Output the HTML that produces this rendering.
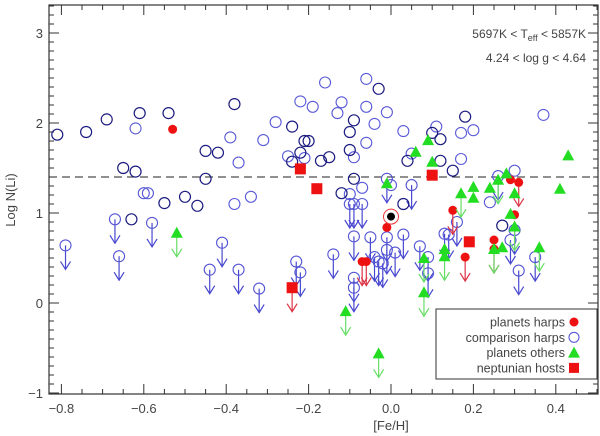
<!DOCTYPE html>
<html><head><meta charset="utf-8"><style>
html,body{margin:0;padding:0;background:#fff;}
svg{display:block;font-family:"Liberation Sans",sans-serif;}
</style></head><body>
<svg id="chart" width="600" height="436" viewBox="0 0 600 436"></svg>
<script>
// ---- data ----
const xTicks = [-0.8,-0.6,-0.4,-0.2,0.0,0.2,0.4];
const xTickLabels = ["\u22120.8","\u22120.6","\u22120.4","\u22120.2","0.0","0.2","0.4"];
const yTicks = [-1,0,1,2,3];
const yTickLabels = ["\u22121","0","1","2","3"];
const refLine = 1.4;
const sunFe = [0.0];
const sunLi = [0.96];
// comparison harps, dark detections
const darkFe = [-0.81,-0.74,-0.69,-0.61,-0.54,-0.38,-0.24,-0.65,-0.62,-0.45,-0.42,-0.45,-0.55,-0.50,-0.47,-0.63,-0.21,-0.20,-0.22,-0.24,-0.17,-0.15,-0.09,-0.10,-0.10,-0.03,-0.09,-0.12,0.18,0.10,0.12,0.04,0.12,0.15,0.03,0.27];
const darkLi = [1.87,1.90,2.04,2.11,2.11,2.21,1.96,1.50,1.46,1.69,1.67,1.38,1.11,1.18,1.08,0.93,1.80,1.80,1.67,1.57,1.58,1.62,2.03,1.90,1.70,2.38,1.38,1.22,2.07,1.89,1.82,1.58,1.58,1.47,1.10,0.86];
// comparison harps, light detections
const lightFe = [-0.62,-0.37,-0.39,-0.31,-0.28,-0.22,-0.25,-0.60,-0.59,-0.38,-0.34,-0.16,-0.19,-0.12,-0.13,-0.06,-0.06,-0.01,-0.04,-0.06,-0.21,-0.09,-0.10,-0.07,0.00,0.03,0.11,0.17,0.20,0.17,0.37,0.30,0.24,0.05];
const lightLi = [1.94,1.56,1.84,1.81,2.01,2.24,1.63,1.22,1.22,1.10,1.18,2.45,2.18,2.23,2.11,2.49,2.18,2.12,1.99,1.78,1.61,1.62,1.21,1.28,1.31,1.91,1.96,1.89,1.92,1.60,2.09,1.47,1.12,1.66];
// comparison harps, upper limits
const limFe = [-0.79,-0.67,-0.66,-0.58,-0.44,-0.41,-0.37,-0.32,-0.23,-0.22,-0.14,-0.10,-0.09,-0.07,-0.09,-0.05,-0.01,-0.09,-0.09,-0.04,-0.03,-0.02,-0.01,0.01,0.03,0.05,0.07,0.09,0.09,0.16,0.13,0.14,0.29,0.30,0.31,0.35,0.26,-0.01];
const limLi = [0.64,0.93,0.52,0.89,0.37,0.67,0.37,0.16,0.46,0.34,0.54,1.10,1.10,1.10,0.74,0.73,0.73,0.28,0.17,0.51,0.46,0.44,0.59,0.56,0.76,1.31,0.63,0.51,0.33,0.90,0.77,0.76,0.70,0.81,0.36,0.51,1.41,1.38];
// planets harps
const redFe = [-0.53,-0.01,-0.07,-0.06,0.15,0.18,0.25,0.25,0.29,0.31,0.30];
const redLi = [1.93,0.84,0.46,0.46,1.03,0.51,0.70,0.60,1.37,1.34,0.98];
const redLim = [0,0,1,1,1,1,0,1,0,1,0];
// planets others
const grnFe = [-0.52,-0.11,-0.03,-0.01,0.06,0.10,0.09,0.17,0.20,0.20,0.24,0.26,0.28,0.30,0.29,0.30,0.43,0.41,0.36,0.08,0.08,0.13,0.13,0.25,0.27];
const grnLi = [0.78,-0.09,-0.56,1.33,1.68,1.57,1.81,1.22,1.29,1.17,1.28,1.37,1.44,1.22,0.99,0.85,1.64,1.27,0.62,0.50,0.12,0.60,0.52,0.60,0.62];
const grnLim = [1,1,1,0,0,0,0,1,0,0,0,1,0,0,0,1,0,0,1,1,1,0,1,1,0];
// neptunian hosts
const sqFe = [-0.24,-0.22,-0.18,0.10,0.19];
const sqLi = [0.17,1.49,1.27,1.42,0.68];
const sqLim = [1,0,0,0,0];

// ---- axes ----
const L=49,R=598,T=5,B=394;
const X=v=>391+412*v;
const Y=v=>303-90*v;
const NS="http://www.w3.org/2000/svg";
const svg=document.getElementById('chart');
function mk(tag,attrs,parent){const e=document.createElementNS(NS,tag);for(const k in attrs)e.setAttribute(k,attrs[k]);(parent||svg).appendChild(e);return e;}

const axisG=mk('g',{});


for(let i=-17;i<=10;i++){const v=i*0.05;const x=X(v);if(x<L||x>R)continue;const major=Math.abs(v*5-Math.round(v*5))<1e-6;const len=major?10:5;
 mk('line',{x1:x,y1:B,x2:x,y2:B-len,stroke:'#333','stroke-width':1},axisG);
 mk('line',{x1:x,y1:T,x2:x,y2:T+len,stroke:'#333','stroke-width':1},axisG);}
for(let i=-10;i<=33;i++){const v=i*0.1;const y=Y(v);if(y<T||y>B)continue;const major=Math.abs(v-Math.round(v))<1e-6;const len=major?10:5;
 mk('line',{x1:L,y1:y,x2:L+len,y2:y,stroke:'#333','stroke-width':1},axisG);
 mk('line',{x1:R,y1:y,x2:R-len,y2:y,stroke:'#333','stroke-width':1},axisG);}
const frame=mk('rect',{x:L,y:T,width:R-L,height:B-T,fill:'none',stroke:'#333','stroke-width':1.2});


xTicks.forEach((v,i)=>{const t=mk('text',{x:X(v),y:413,'text-anchor':'middle','font-size':13,fill:'#444'});t.textContent=xTickLabels[i];
 
 });
yTicks.forEach((v,i)=>{const t=mk('text',{x:43,y:Y(v)+5,'text-anchor':'end','font-size':13,fill:'#444'});t.textContent=yTickLabels[i];
 
 });
const xt=mk('text',{x:391,y:430,'text-anchor':'middle','font-size':13,fill:'#444'});xt.textContent='[Fe/H]';


const yt=mk('text',{x:0,y:0,'text-anchor':'middle','font-size':13,fill:'#444',transform:'translate(15,200) rotate(-90)'});yt.textContent='Log N(Li)';



const dl=mk('line',{x1:L,x2:R,y1:Y(refLine),y2:Y(refLine),stroke:'#222','stroke-width':1,'stroke-dasharray':'8,5'});



// annotations
const a1=mk('text',{x:586,y:38,'text-anchor':'end','font-size':12,fill:'#444'});
a1.innerHTML='5697K &lt; T<tspan font-size="9" dy="3">eff</tspan><tspan dy="-3"> &lt; 5857K</tspan>';


const a2=mk('text',{x:586,y:62,'text-anchor':'end','font-size':12,fill:'#444'});a2.textContent='4.24 < log g < 4.64';



function arrow(g,x,y,col){mk('line',{x1:x,y1:y,x2:x,y2:y+24,stroke:col,'stroke-width':1.2},g);
 mk('polyline',{points:`${x-5},${y+16} ${x},${y+24} ${x+5},${y+16}`,fill:'none',stroke:col,'stroke-width':1.2},g);}

const gLim=mk('g',{});


limFe.forEach((f,i)=>{const x=X(f),y=Y(limLi[i]);arrow(gLim,x,y,'#4848d0');
 const c=mk('circle',{cx:x,cy:y,r:5.5,fill:'none',stroke:'#5555d5','stroke-width':1.1},gLim);
 
 });
const gLight=mk('g',{});


lightFe.forEach((f,i)=>{const c=mk('circle',{cx:X(f),cy:Y(lightLi[i]),r:5.5,fill:'none',stroke:'#5a5ad8','stroke-width':1.1},gLight);
 
 });
const gDark=mk('g',{});


darkFe.forEach((f,i)=>{const c=mk('circle',{cx:X(f),cy:Y(darkLi[i]),r:5.5,fill:'none',stroke:'#1c1c80','stroke-width':1.2},gDark);
 
 });
const gRed=mk('g',{});


redFe.forEach((f,i)=>{const x=X(f),y=Y(redLi[i]);if(redLim[i])arrow(gRed,x,y,'#dd3344');
 const c=mk('circle',{cx:x,cy:y,r:4.5,fill:'#ee1111'},gRed);
 
 });
const gGrn=mk('g',{});


grnFe.forEach((f,i)=>{const x=X(f),y=Y(grnLi[i]);if(grnLim[i])arrow(gGrn,x,y,'#66dd66');
 const p=mk('polygon',{points:`${x},${y-6} ${x-6},${y+5} ${x+6},${y+5}`,fill:'#22dd22'},gGrn);
 
 });
const gSq=mk('g',{});


sqFe.forEach((f,i)=>{const x=X(f),y=Y(sqLi[i]);if(sqLim[i])arrow(gSq,x,y,'#dd3344');
 const r=mk('rect',{x:x-5.5,y:y-5.5,width:11,height:11,fill:'#ee1111'},gSq);
 
 });
const gSun=mk('g',{});


sunFe.forEach((f,i)=>{mk('circle',{cx:X(f),cy:Y(sunLi[i]),r:7.5,fill:'#fff',stroke:'#ee3333','stroke-width':1},gSun);
 mk('circle',{cx:X(f),cy:Y(sunLi[i]),r:4,fill:'#000'},gSun);});

// legend
const lg=mk('g',{});


mk('rect',{x:436,y:309,width:161,height:70,fill:'#fff',stroke:'#333','stroke-width':1},lg);
const labels=['planets harps','comparison harps','planets others','neptunian hosts'];
labels.forEach((s,i)=>{const y=322+i*15.3;const t=mk('text',{x:565,y:y+4.5,'text-anchor':'end','font-size':12.5,fill:'#444'},lg);t.textContent=s;
 
 
 const mx=574;
 if(i==0)mk('circle',{cx:mx,cy:y,r:4.5,fill:'#ee1111'},lg);
 if(i==1)mk('circle',{cx:mx,cy:y,r:5,fill:'none',stroke:'#5a5ad8','stroke-width':1.1},lg);
 if(i==2)mk('polygon',{points:`${mx},${y-6} ${mx-6},${y+5} ${mx+6},${y+5}`,fill:'#22dd22'},lg);
 if(i==3)mk('rect',{x:mx-5,y:y-5,width:10,height:10,fill:'#ee1111'},lg);});
</script>
</body></html>
